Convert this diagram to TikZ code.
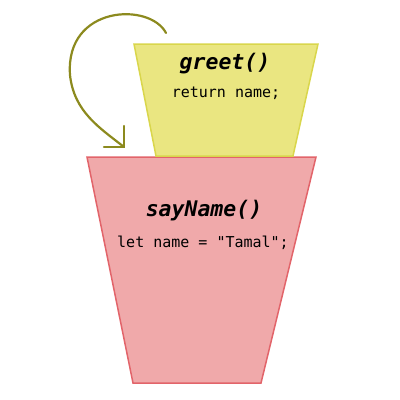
\documentclass[tikz,border=0pt]{standalone}
\usepackage{fontspec}
\setmonofont{DejaVu Sans Mono}
\definecolor{yfill}{HTML}{EAE681}
\definecolor{yline}{HTML}{D9D64C}
\definecolor{rfill}{HTML}{F0A9AA}
\definecolor{rline}{HTML}{E2646A}
\definecolor{olive}{HTML}{8C8A1E}
\tikzset{
    frame/.style={line width=1.5pt, line join=miter},
    fname/.style={font=\fontsize{21.5}{24}\selectfont\ttfamily\bfseries\itshape},
    fbody/.style={font=\fontsize{15}{17}\selectfont\ttfamily},
    lookup/.style={olive, line width=2.2pt, line cap=round, line join=miter}
}
\begin{document}
\begin{tikzpicture}[x=1pt,y=-1pt]
    \useasboundingbox (0,0) rectangle (400,400);
    % outer function
    \draw[frame, fill=rfill, draw=rline] (87,157) -- (316,157) -- (261,383) -- (133,383) -- cycle;
    \node[fname] (sayname) at (204,211) {sayName()};
    \node[fbody] (letname) at (203,243) {let name = "Tamal";};
    % inner function
    \draw[frame, fill=yfill, draw=yline] (134,44) -- (318,44) -- (293,156) -- (156,156) -- cycle;
    \node[fname] (greet) at (225,64) {greet()};
    \node[fbody] (retname) at (226,93) {return name;};
    % scope lookup
    \coordinate (from) at (166,33);
    \coordinate (to) at (124,147);
    \draw[lookup] (from) .. controls (150,2) and (65,5) .. (70,75)
        .. controls (74,112) and (100,128) .. (to);
    \draw[lookup] (to) ++(0,-21) -- (to) -- ++(-20,0);
\end{tikzpicture}
\end{document}
